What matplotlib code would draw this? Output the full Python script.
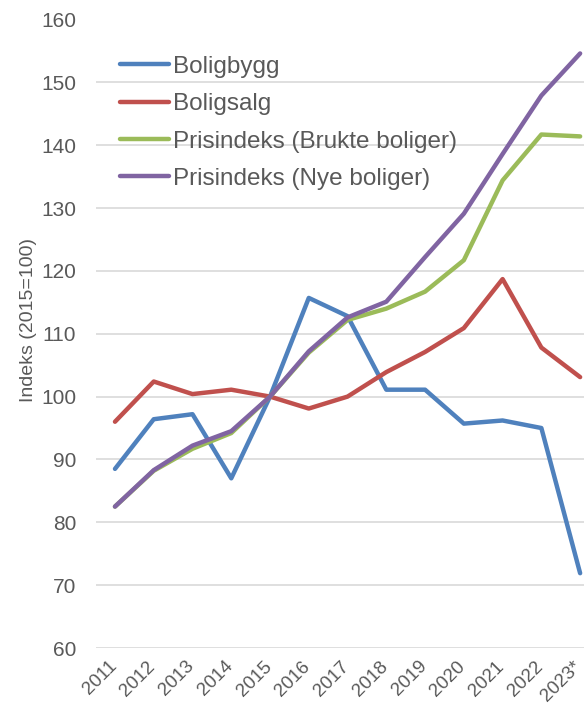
import matplotlib.pyplot as plt
import matplotlib.transforms as mtransforms
import numpy as np

years = ["2011", "2012", "2013", "2014", "2015", "2016", "2017",
         "2018", "2019", "2020", "2021", "2022", "2023*"]
boligbygg = [88.5, 96.4, 97.2, 87.0, 100.0, 115.7, 112.8, 101.1, 101.1, 95.7, 96.2, 95.0, 71.9]
boligsalg = [96.0, 102.4, 100.4, 101.1, 100.0, 98.1, 100.0, 103.9, 107.1, 110.9, 118.7, 107.8, 103.1]
brukte = [82.5, 88.2, 91.7, 94.2, 100.0, 107.0, 112.2, 114.0, 116.7, 121.7, 134.4, 141.7, 141.4]
nye = [82.5, 88.3, 92.2, 94.5, 100.0, 107.2, 112.6, 115.1, 122.2, 129.1, 138.6, 147.9, 154.6]

names = ["Boligbygg", "Boligsalg", "Prisindeks (Brukte boliger)", "Prisindeks (Nye boliger)"]
colours = ["#4F81BD", "#C0504D", "#9BBB59", "#8064A2"]

plt.rcParams['font.family'] = ['Liberation Sans', 'DejaVu Sans']
grey = "#595959"

fig = plt.figure(figsize=(5.84, 7.10), dpi=100)
ax = fig.add_axes([95.6/584, 62/710, (584-95.6)/584, (648-19.5)/710])

x = np.arange(len(years))
for vals, name, c in zip([boligbygg, boligsalg, brukte, nye], names, colours):
    ax.plot(x, vals, color=c, lw=3.2, label=name, solid_capstyle='round', solid_joinstyle='round')

ax.set_xlim(-0.5, 12.1)
ax.set_ylim(60, 160)
ax.set_yticks(np.arange(60, 161, 10))
ax.grid(axis='y', color='#d9d9d9', lw=1.2)
ax.set_axisbelow(True)
for s in ax.spines.values():
    s.set_visible(False)
ax.tick_params(axis='both', length=0, colors=grey, labelsize=15)
ax.tick_params(axis='y', pad=14)
ax.set_xticks(x)
ax.set_xticklabels(years, rotation=45, ha='right', rotation_mode='anchor', fontsize=13.5)
ax.tick_params(axis='x', pad=7)
shift = mtransforms.ScaledTranslation(-7/100, 0, fig.dpi_scale_trans)
for lab in ax.get_xticklabels():
    lab.set_transform(lab.get_transform() + shift)

ax.set_ylabel("Indeks (2015=100)", fontsize=14, color=grey)
ax.yaxis.set_label_coords(-0.12, 0.522)

leg = ax.legend(loc='upper left', bbox_to_anchor=(0.05, 0.942), frameon=False,
                fontsize=17.5, labelcolor=grey, handlelength=2.0, handletextpad=0.17,
                labelspacing=0.63, borderpad=0, borderaxespad=0)

fig.savefig("out.png", dpi=100)
